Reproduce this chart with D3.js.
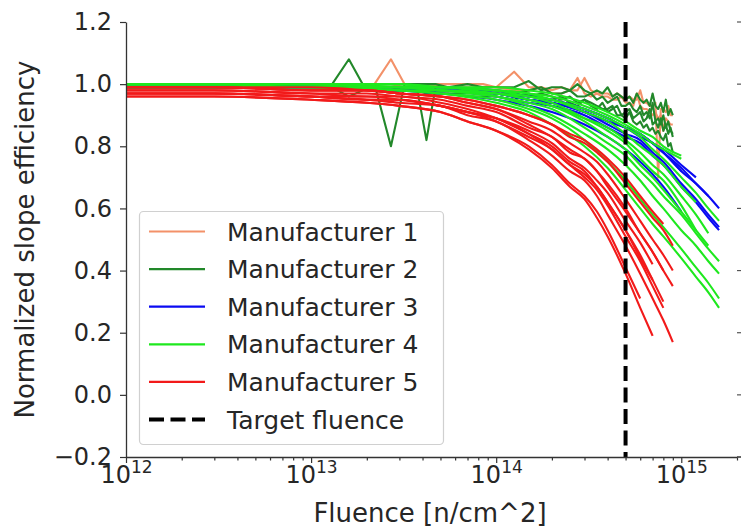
<!DOCTYPE html>
<html><head><meta charset="utf-8">
<script src="https://cdn.jsdelivr.net/npm/d3@7"></script>
<style>
body{margin:0;background:#fff}
svg{display:block}
text{font-family:"DejaVu Sans",sans-serif;fill:#262626}
</style>
</head><body><svg id="c" width="741" height="528"></svg>
<script>
// ---------------- data ----------------
const xDecades = [1e12, 1e13, 1e14, 1e15];
const xDecadeExp = ["12", "13", "14", "15"];
const yTicks = [-0.2, 0.0, 0.2, 0.4, 0.6, 0.8, 1.0, 1.2];
const targetFluence = 5e14;

const legendLabels = ["Manufacturer 1", "Manufacturer 2", "Manufacturer 3", "Manufacturer 4", "Manufacturer 5", "Target fluence"];
const seriesColors = ["#f39169", "#22882a", "#0a0af2", "#1ee81e", "#f21a1a"];

// Manufacturer 1 (noisy)
const m1Fluence = [1e12, 3e12, 1e13, 1.6e13, 2.2e13, 2.7e13, 3.2e13, 4.2e13, 5.5e13, 7e13, 8.5e13,
  1.0e14,1.25e14,1.5e14,1.75e14,2.0e14,2.25e14,2.5e14,2.75e14,3.0e14,3.25e14,3.5e14,3.75e14,4.0e14,4.25e14,4.5e14,4.75e14,
  5.0e14,5.25e14,5.5e14,5.75e14,6.0e14,6.25e14,6.5e14,6.75e14,7.0e14,7.25e14,7.5e14,7.75e14,8.0e14,8.25e14,8.5e14,8.75e14,9.0e14];
const m1Values = [
  [1.00,1.00,1.00,1.00,1.00,1.08,1.00,1.00,1.00,1.00,1.00,
   .99,1.04,.99,.99,.98,.99,.98,.98,1.02,.98,.97,.97,.97,.96,.97,.96,.95,.96,.95,.95,.98,.94,.94,.93,.93,.94,.70,.92,.92,.91,.93,.90,.90],
  [1.00,1.00,.99,.99,1.00,1.00,.99,1.00,.99,.99,.99,
   .99,.98,.98,.99,.97,.97,.98,1.02,.97,.96,.97,.96,.96,.95,.95,.96,.94,.94,.93,.97,.93,.92,.92,.91,.90,.91,.89,.90,.85,.89,.88,.87,.87]
];

// Manufacturer 2 (noisy)
const m2Fluence = [1e12, 3e12, 1e13, 1.3e13, 1.6e13, 1.9e13, 2.2e13, 2.7e13, 3.2e13, 3.7e13, 4.2e13, 4.7e13, 5.5e13, 7e13, 8.5e13,
  1.0e14,1.25e14,1.5e14,1.75e14,2.0e14,2.25e14,2.5e14,2.75e14,3.0e14,3.25e14,3.5e14,3.75e14,4.0e14,4.25e14,4.5e14,4.75e14,
  5.0e14,5.25e14,5.5e14,5.75e14,6.0e14,6.25e14,6.5e14,6.75e14,7.0e14,7.25e14,7.5e14,7.75e14,8.0e14,8.25e14,8.5e14,8.75e14,9.0e14];
const m2Values = [
  [1.00,1.00,1.00,1.00,1.08,1.00,1.00,1.00,1.00,1.00,1.00,1.00,.99,1.00,.99,
   .99,.99,1.01,.98,.99,.99,.98,1.00,.98,.97,.98,.97,.99,.96,.97,.96,.95,.96,.94,.97,.95,.94,.95,.93,.97,.93,.92,.94,.91,.95,.90,.92,.90],
  [.99,.99,1.00,1.00,.99,1.00,1.00,.80,1.00,1.00,.82,.99,.99,.98,.98,
   .98,.97,.98,.99,.97,.97,.98,.96,.96,.97,.95,.96,.94,.95,.96,.93,.93,.94,.92,.91,.93,.90,.91,.89,.94,.88,.89,.87,.90,.86,.88,.85,.84],
  [.99,.99,.99,.99,.96,.98,.99,.99,.98,.98,.98,.97,.97,.97,.97,
   .97,.97,.96,.97,.96,.95,.96,.94,.95,.94,.93,.92,.92,.93,.90,.90,.89,.91,.88,.87,.88,.86,.87,.85,.86,.84,.85,.83,.82,.84,.80,.81,.78],
  [.99,.99,.99,.99,.99,.99,.98,.98,.98,.98,.97,.97,.97,.96,.96,
   .96,.95,.97,.95,.95,.96,.94,.93,.95,.93,.92,.94,.91,.92,.93,.90,.91,.92,.89,.90,.91,.88,.89,.92,.87,.88,.86,.89,.85,.87,.84,.86,.83]
];

// Manufacturers 3 and 4
const m34Fluence = [1e12, 3e12, 1e13, 3e13, 5e13, 1e14, 1.5e14, 2e14, 3e14, 4e14, 5e14, 6e14, 7e14, 8e14, 1e15, 1.2e15, 1.4e15, 1.6e15];
const m3Values = [
  [1.00,1.00,1.00,.99,.99,.97,.95,.94,.91,.87,.84,.82,.78,.75,.68,.63,.58,.54],
  [.99,.99,.99,.98,.98,.97,.95,.94,.91,.88,.86,.84,.81,.78,.73,.68,.64],
  [1.00,1.00,1.00,.99,.99,.98,.96,.95,.92,.89,.86,.84,.81,.79,.74,.70],
  [.99,.99,.99,.98,.97,.95,.93,.91,.87,.83,.79,.75,.71,.67,.59],
  [.99,.99,.99,.98,.98,.97,.95,.94,.91,.88,.86,.83,.81,.78,.72,.68,.64,.60],
  [.99,.99,.99,.98,.98,.96,.94,.93,.90,.86,.83,.81,.77,.74,.67,.62,.57,.53],
  [1.00,1.00,1.00,.99,.99,.97,.96,.95,.92,.89,.86,.84,.81,.78,.72]
];
const m4Values = [
  [.99,.99,.99,.98,.97,.94,.91,.87,.80,.73,.66,.60,.55,.51,.44,.38,.33,.28],
  [.99,.99,.99,.98,.97,.95,.92,.89,.82,.75,.69,.63,.58,.54,.47,.41,.36,.31],
  [.99,.99,.99,.98,.98,.96,.93,.90,.84,.79,.74,.69,.64,.60,.53,.48,.43,.39],
  [.99,.99,.99,.99,.98,.96,.94,.92,.86,.81,.77,.72,.68,.64,.58,.52,.47,.43],
  [1.00,1.00,.99,.99,.98,.97,.95,.93,.88,.83,.79,.74,.70,.66,.59,.53,.48],
  [1.00,1.00,1.00,.99,.99,.97,.96,.94,.89,.85,.81,.76,.72,.69,.61,.53],
  [1.00,1.00,1.00,.99,.99,.98,.97,.95,.92,.89,.86,.83,.79,.76,.70,.65,.60,.56],
  [1.00,1.00,1.00,1.00,.99,.98,.97,.96,.93,.90,.87,.84,.81,.79,.76],
  [1.00,1.00,1.00,.99,.98,.97,.95,.93,.89,.86,.82,.78,.74,.71,.64,.58,.52],
  [1.00,1.00,1.00,.99,.99,.98,.96,.95,.91,.88,.84,.80,.77,.74,.67,.62],
  [1.00,1.00,1.00,1.00,.99,.99,.98,.97,.94,.91,.88,.85,.83,.80,.77]
];

// Manufacturer 5
const m5Fluence = [1e12, 3e12, 1e13, 2e13, 3e13, 5e13, 7e13, 1e14, 1.5e14, 2e14, 2.5e14, 3e14, 3.5e14, 4e14, 5e14, 6e14, 7e14, 8e14, 9e14];
const m5Values = [
  [.96,.96,.95,.94,.93,.91,.88,.85,.79,.73,.67,.63,.57,.51,.39,.28,.19],
  [.97,.97,.96,.95,.94,.93,.90,.88,.82,.77,.72,.69,.64,.58,.48,.39,.31,.24,.17],
  [.98,.98,.97,.97,.96,.95,.93,.91,.86,.83,.78,.76,.72,.67,.59,.52,.46,.40,.35],
  [.97,.97,.96,.95,.95,.93,.91,.88,.83,.79,.74,.70,.66,.61,.51,.43,.35,.28],
  [.99,.99,.98,.98,.97,.96,.95,.93,.90,.87,.83,.81,.78,.75,.68,.62,.57,.53,.48],
  [.99,.99,.99,.98,.97,.96,.95,.93,.90,.87,.84,.82,.79,.76,.70,.64,.59,.55],
  [.98,.98,.97,.96,.96,.94,.92,.89,.84,.80,.75,.72,.67,.62,.53,.45,.37,.30],
  [.97,.97,.96,.95,.95,.93,.91,.89,.84,.79,.74,.71,.67,.62,.53,.44,.37],
  [.99,.99,.98,.98,.97,.96,.94,.92,.87,.83,.79,.76,.72,.68,.60,.52,.46,.40],
  [.99,.99,.98,.98,.97,.96,.94,.92,.88,.85,.81,.78,.75,.71,.63,.56,.50,.45,.40],
  [.97,.97,.96,.96,.95,.93,.91,.89,.85,.81,.76,.73,.69,.65,.56,.49,.42],
  [.96,.96,.95,.94,.93,.91,.88,.85,.80,.74,.68,.64,.59,.53,.41,.31]
];

// ---------------- chart ----------------
const svg = d3.select("#c");
const x = d3.scaleLog().domain([1e12, 2e15]).range([126, 737]);
const y = d3.scaleLinear().domain([-0.2, 1.2]).range([457, 22]);

const groups = [
  {fl: m1Fluence, vals: m1Values, color: seriesColors[0], curve: d3.curveLinear},
  {fl: m2Fluence, vals: m2Values, color: seriesColors[1], curve: d3.curveLinear},
  {fl: m34Fluence, vals: m3Values, color: seriesColors[2], curve: d3.curveMonotoneX},
  {fl: m34Fluence, vals: m4Values, color: seriesColors[3], curve: d3.curveMonotoneX},
  {fl: m5Fluence, vals: m5Values, color: seriesColors[4], curve: d3.curveMonotoneX}
];

const plot = svg.append("g");
groups.forEach(gp => {
  const line = d3.line().x(d => x(d[0])).y(d => y(d[1])).curve(gp.curve);
  gp.vals.forEach(v => {
    const pts = v.map((val, i) => [gp.fl[i], val]).filter(p => p[1] != null);
    plot.append("path").attr("d", line(pts))
      .attr("fill", "none").attr("stroke", gp.color)
      .attr("stroke-width", 2.1).attr("stroke-linejoin", "round");
  });
});

// target fluence
plot.append("line")
  .attr("x1", x(targetFluence)).attr("x2", x(targetFluence))
  .attr("y1", y(1.2)).attr("y2", y(-0.2))
  .attr("stroke", "#000").attr("stroke-width", 4)
  .attr("stroke-dasharray", "15,6.5");

// axes
const axisColor = "#333";
const xMinor = x.ticks().filter(t => !xDecades.includes(t));
const gxMinor = svg.append("g").attr("transform", `translate(0,${y(-0.2)})`)
  .call(d3.axisBottom(x).tickValues(xMinor).tickSize(3.5).tickSizeOuter(0).tickFormat(""));
const gx = svg.append("g").attr("transform", `translate(0,${y(-0.2)})`)
  .call(d3.axisBottom(x).tickValues(xDecades).tickSize(6).tickSizeOuter(0).tickFormat(""));
gx.selectAll(".tick").each(function(d, i) {
  const t = d3.select(this).append("text")
    .attr("y", 26).attr("text-anchor", "middle").attr("font-size", "24px");
  t.append("tspan").text("10");
  t.append("tspan").attr("dy", -10.5).attr("font-size", "17px").text(xDecadeExp[i]);
});
const gy = svg.append("g").attr("transform", `translate(${x(1e12)},0)`)
  .call(d3.axisLeft(y).tickValues(yTicks).tickSize(6).tickPadding(8).tickSizeOuter(0).tickFormat(d3.format(".1f")));
gy.selectAll("text").attr("font-size", "24px").attr("font-family", "DejaVu Sans").attr("fill", "#262626");
[gx, gxMinor, gy].forEach(g => {
  g.selectAll("path.domain").attr("stroke", axisColor).attr("stroke-width", 1.3);
  g.selectAll("line").attr("stroke", axisColor).attr("stroke-width", 1.2);
});
gxMinor.select("path.domain").attr("stroke", "none");
svg.append("line").attr("x1", x(2e15)).attr("x2", 741).attr("y1", y(-0.2)).attr("y2", y(-0.2))
  .attr("stroke", axisColor).attr("stroke-width", 1.3);
svg.append("g").selectAll("line").data(yTicks).join("line")
  .attr("x1", 737).attr("x2", 741).attr("y1", d => y(d)).attr("y2", d => y(d))
  .attr("stroke", "#555").attr("stroke-width", 1.2);

// axis labels
svg.append("text").attr("x", 430).attr("y", 522).attr("text-anchor", "middle")
  .attr("font-size", "26px").text("Fluence [n/cm^2]");
svg.append("text").attr("transform", `translate(34,${(y(1.2) + y(-0.2)) / 2}) rotate(-90)`)
  .attr("text-anchor", "middle").attr("font-size", "26px").text("Normalized slope efficiency");

// legend
const lg = svg.append("g");
lg.append("rect").attr("x", 139.5).attr("y", 211.5).attr("width", 304).attr("height", 233).attr("rx", 4)
  .attr("fill", "#fff").attr("fill-opacity", 0.85).attr("stroke", "#d0d0d0").attr("stroke-width", 1.2);
legendLabels.forEach((lab, i) => {
  const ly = 231.5 + i * 37.6;
  const ln = lg.append("line").attr("x1", 149).attr("x2", 205).attr("y1", ly).attr("y2", ly);
  if (i < 5) ln.attr("stroke", seriesColors[i]).attr("stroke-width", 2.2);
  else ln.attr("stroke", "#000").attr("stroke-width", 4).attr("stroke-dasharray", "15,6.5");
  lg.append("text").attr("x", 227).attr("y", ly + 9).attr("font-size", "25px").text(lab);
});
</script>
</body></html>
